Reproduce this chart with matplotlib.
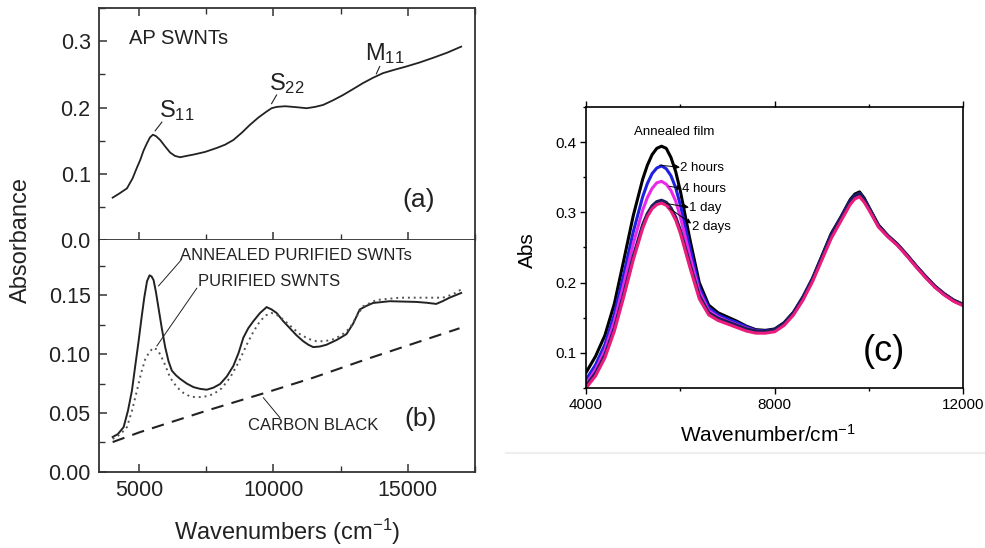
import matplotlib
matplotlib.use("Agg")
import matplotlib.pyplot as plt
from matplotlib.lines import Line2D
from matplotlib.ticker import MultipleLocator

plt.rcParams['font.family'] = ['Liberation Sans', 'DejaVu Sans']
plt.rcParams['mathtext.default'] = 'regular'

# ---- panel (a): as-prepared SWNTs
ap_x = [4009, 4250, 4542, 4750, 4900, 5037, 5160, 5285, 5400, 5508, 5620, 5780, 5950, 6152,
        6330, 6524, 6760, 7020, 7450, 7887, 8200, 8506, 8820, 9126, 9440, 9745, 9930, 10117,
        10430, 10737, 11000, 11232, 11550, 11852, 12220, 12595, 12970, 13338, 13710, 14082,
        14500, 14949, 15440, 15940, 16480, 16993]
ap_y = [0.064, 0.070, 0.078, 0.093, 0.108, 0.121, 0.135, 0.146, 0.155, 0.159, 0.157, 0.151,
        0.142, 0.132, 0.127, 0.125, 0.127, 0.129, 0.133, 0.139, 0.144, 0.151, 0.162, 0.174,
        0.185, 0.194, 0.199, 0.201, 0.202, 0.201, 0.200, 0.199, 0.201, 0.204, 0.211, 0.219,
        0.228, 0.237, 0.245, 0.252, 0.257, 0.262, 0.268, 0.275, 0.283, 0.292]

# ---- panel (b)
ann_x = [4009, 4200, 4418, 4580, 4727, 4850, 4975, 5080, 5186, 5290, 5384, 5460, 5533, 5620,
         5719, 5840, 5966, 6090, 6214, 6370, 6524, 6770, 7020, 7270, 7515, 7760, 8011, 8260,
         8506, 8700, 8878, 9060, 9250, 9500, 9745, 9930, 10117, 10365, 10613, 10860, 11108,
         11300, 11480, 11730, 11976, 12350, 12719, 12970, 13215, 13460, 13710, 14330, 14820,
         15321, 15700, 16064, 16300, 16560, 16993]
ann_y = [0.0296, 0.032, 0.038, 0.052, 0.069, 0.090, 0.111, 0.130, 0.148, 0.162, 0.167, 0.166,
         0.163, 0.153, 0.139, 0.122, 0.106, 0.094, 0.086, 0.082, 0.079, 0.075, 0.072, 0.0705,
         0.0698, 0.0715, 0.0746, 0.081, 0.090, 0.101, 0.114, 0.122, 0.128, 0.135, 0.140, 0.138,
         0.135, 0.128, 0.122, 0.116, 0.111, 0.108, 0.106, 0.1065, 0.108, 0.112, 0.117, 0.126,
         0.138, 0.141, 0.1435, 0.145, 0.1447, 0.1444, 0.1437, 0.1427, 0.145, 0.148, 0.152]

pur_x = [4009, 4300, 4542, 4730, 4913, 5070, 5223, 5380, 5533, 5650, 5780, 5960, 6152, 6400,
         6648, 6900, 7143, 7450, 7763, 8070, 8382, 8700, 9002, 9250, 9498, 9720, 9931, 10150,
         10365, 10680, 10985, 11300, 11604, 11900, 12224, 12530, 12843, 13100, 13338, 13834,
         14701, 15692, 16312, 16700, 16993]
pur_y = [0.028, 0.032, 0.038, 0.052, 0.069, 0.084, 0.0957, 0.102, 0.1055, 0.104, 0.100, 0.091,
         0.080, 0.072, 0.067, 0.064, 0.0633, 0.064, 0.066, 0.071, 0.080, 0.093, 0.108, 0.119,
         0.128, 0.133, 0.135, 0.133, 0.1295, 0.123, 0.117, 0.113, 0.111, 0.111, 0.1126, 0.116,
         0.122, 0.132, 0.1407, 0.146, 0.148, 0.148, 0.148, 0.151, 0.155]

cb_x = [4009, 5037, 7515, 9745, 11480, 13462, 15321, 16932]
cb_y = [0.0253, 0.0338, 0.052, 0.0675, 0.080, 0.0957, 0.1098, 0.122]

# ---- panel (c): annealed film and after exposure
wn = [4000, 4200, 4400, 4600, 4800, 5000, 5200, 5300, 5400, 5500, 5600, 5700, 5800, 5900,
      6000, 6200, 6400, 6600, 6800, 7000, 7200, 7400, 7600, 7800, 8000, 8200, 8400, 8600,
      8800, 9000, 9200, 9400, 9600, 9700, 9800, 9900, 10000, 10200, 10400, 10600, 10800,
      11000, 11200, 11400, 11600, 11800, 12000]
abs_annealed = [0.072, 0.095, 0.125, 0.170, 0.232, 0.295, 0.347, 0.367, 0.382, 0.391, 0.394,
                0.391, 0.378, 0.358, 0.330, 0.262, 0.200, 0.168, 0.157, 0.151, 0.145, 0.138,
                0.133, 0.132, 0.134, 0.143, 0.158, 0.180, 0.206, 0.238, 0.270, 0.293, 0.318,
                0.326, 0.329, 0.320, 0.307, 0.282, 0.267, 0.255, 0.240, 0.224, 0.209, 0.195,
                0.184, 0.175, 0.169]
abs_2h = [0.062, 0.083, 0.112, 0.155, 0.212, 0.272, 0.322, 0.341, 0.355, 0.363, 0.366, 0.362,
          0.352, 0.335, 0.310, 0.250, 0.193, 0.164, 0.154, 0.148, 0.143, 0.137, 0.132, 0.131,
          0.133, 0.142, 0.157, 0.179, 0.205, 0.236, 0.268, 0.292, 0.316, 0.324, 0.327, 0.318,
          0.306, 0.281, 0.266, 0.254, 0.239, 0.223, 0.208, 0.194, 0.183, 0.174, 0.168]
abs_4h = [0.056, 0.076, 0.104, 0.145, 0.198, 0.255, 0.303, 0.321, 0.334, 0.342, 0.344, 0.340,
          0.331, 0.316, 0.293, 0.238, 0.187, 0.160, 0.151, 0.145, 0.140, 0.135, 0.131, 0.130,
          0.132, 0.141, 0.156, 0.177, 0.203, 0.234, 0.266, 0.290, 0.314, 0.322, 0.325, 0.317,
          0.305, 0.280, 0.266, 0.254, 0.239, 0.223, 0.208, 0.194, 0.183, 0.174, 0.168]
abs_1d = [0.053, 0.071, 0.097, 0.135, 0.184, 0.237, 0.282, 0.298, 0.309, 0.315, 0.317, 0.314,
          0.306, 0.293, 0.274, 0.226, 0.181, 0.157, 0.149, 0.144, 0.139, 0.134, 0.131, 0.130,
          0.133, 0.142, 0.157, 0.178, 0.204, 0.235, 0.267, 0.291, 0.315, 0.324, 0.327, 0.318,
          0.306, 0.281, 0.266, 0.254, 0.239, 0.223, 0.208, 0.194, 0.183, 0.174, 0.168]
abs_2d = [0.050, 0.067, 0.093, 0.131, 0.180, 0.232, 0.277, 0.294, 0.305, 0.311, 0.313, 0.310,
          0.302, 0.289, 0.270, 0.222, 0.177, 0.154, 0.146, 0.141, 0.136, 0.131, 0.128, 0.128,
          0.130, 0.139, 0.154, 0.175, 0.201, 0.232, 0.263, 0.287, 0.311, 0.319, 0.322, 0.314,
          0.303, 0.279, 0.265, 0.253, 0.238, 0.222, 0.207, 0.193, 0.182, 0.173, 0.167]

labels_c = ["2 hours", "4 hours", "1 day", "2 days"]

fig = plt.figure(figsize=(9.85, 5.48), dpi=100)
ax_a = fig.add_axes([0.1005, 0.562, 0.3815, 0.423])
ax_b = fig.add_axes([0.1005, 0.139, 0.3815, 0.423])
ax_c = fig.add_axes([0.595, 0.292, 0.383, 0.513])

ink = "#222222"

# panel (a)
ax_a.plot(ap_x, ap_y, color=ink, lw=1.3)
ax_a.set_xlim(3500, 17500)
ax_a.set_ylim(0, 0.35)
ax_a.yaxis.set_minor_locator(MultipleLocator(0.05))
ax_a.xaxis.set_major_locator(MultipleLocator(5000))
ax_a.xaxis.set_minor_locator(MultipleLocator(2500))
ax_a.set_yticks([0.0, 0.1, 0.2, 0.3])
ax_a.set_yticklabels(["0.0", "0.1", "0.2", "0.3"])
ax_a.tick_params(axis="x", which="both", direction="in", top=True, bottom=True, labelbottom=False)
ax_a.tick_params(axis="y", which="both", direction="in", left=True, right=False)
ax_a.text(4604, 0.304, "AP SWNTs", fontsize=14.5, color=ink, va="center")
ax_a.text(5750, 0.195, "S$_{11}$", fontsize=17, color=ink, va="center")
ax_a.plot([5595, 5843], [0.165, 0.178], color=ink, lw=0.8)
ax_a.text(9850, 0.236, "S$_{22}$", fontsize=17, color=ink, va="center")
ax_a.plot([9931, 10117], [0.206, 0.219], color=ink, lw=0.8)
ax_a.text(13400, 0.281, "M$_{11}$", fontsize=17, color=ink, va="center")
ax_a.plot([13834, 13958], [0.251, 0.262], color=ink, lw=0.8)
ax_a.text(15400, 0.06, "(a)", fontsize=19, color=ink, ha="center", va="center")

# panel (b)
ax_b.plot(ann_x, ann_y, color=ink, lw=1.4)
ax_b.plot(pur_x, pur_y, color="#555555", lw=1.4, ls=(0, (1, 2)))
ax_b.plot(cb_x, cb_y, color=ink, lw=1.5, ls=(0, (6, 4)))
ax_b.set_xlim(3500, 17500)
ax_b.set_ylim(0, 0.197)
ax_b.xaxis.set_major_locator(MultipleLocator(5000))
ax_b.xaxis.set_minor_locator(MultipleLocator(2500))
ax_b.set_yticks([0.0, 0.05, 0.10, 0.15])
ax_b.set_yticklabels(["0.00", "0.05", "0.10", "0.15"])
ax_b.yaxis.set_minor_locator(MultipleLocator(0.025))
ax_b.tick_params(axis="x", which="both", direction="in", top=False, bottom=True)
ax_b.tick_params(axis="y", which="both", direction="in", left=True, right=False)
ax_b.spines["top"].set_visible(False)
ax_b.text(6524, 0.184, "ANNEALED PURIFIED SWNTs", fontsize=12, color=ink, va="center")
ax_b.plot([5719, 6560], [0.158, 0.180], color=ink, lw=0.7)
ax_b.text(7205, 0.162, "PURIFIED SWNTS", fontsize=12, color=ink, va="center")
ax_b.plot([5657, 7143], [0.107, 0.156], color=ink, lw=0.7)
ax_b.text(9064, 0.039, "CARBON BLACK", fontsize=12, color=ink, va="center")
ax_b.plot([9622, 10241], [0.063, 0.046], color=ink, lw=0.7)
ax_b.text(15480, 0.045, "(b)", fontsize=19, color=ink, ha="center", va="center")

for ax in (ax_a, ax_b):
    for s in ax.spines.values():
        s.set_color("#333333")
        s.set_linewidth(1.3)
    ax.tick_params(which="major", length=6, width=1.1, colors="#333333",
                   labelsize=15.5, labelcolor=ink, pad=6)
    ax.tick_params(which="minor", length=4, width=1.0, colors="#333333")

fig.text(0.0213, 0.562, "Absorbance", rotation=90, fontsize=17, color=ink,
         ha="center", va="center")
fig.text(0.292, 0.030, "Wavenumbers (cm$^{-1}$)", fontsize=17, color=ink,
         ha="center", va="center")

# panel (c)
ax_c.plot(wn, abs_annealed, color="black", lw=2.2)
ax_c.plot(wn, abs_2h, color="#1f1fe0", lw=2.2)
ax_c.plot(wn, abs_4h, color="#e82ae8", lw=2.2)
ax_c.plot(wn, abs_1d, color="#1c1c5c", lw=2.4)
ax_c.plot(wn, abs_2d, color="#ea1c7c", lw=2.2)
ax_c.set_xlim(4000, 12000)
ax_c.set_ylim(0.05, 0.45)
ax_c.set_xticks([4000, 8000, 12000])
ax_c.xaxis.set_minor_locator(MultipleLocator(2000))
ax_c.set_yticks([0.1, 0.2, 0.3, 0.4])
ax_c.yaxis.set_minor_locator(MultipleLocator(0.05))
ax_c.tick_params(which="both", direction="out", top=True, right=False, labelsize=11, pad=3)
ax_c.tick_params(which="major", length=4, width=1)
ax_c.tick_params(which="minor", length=2.5, width=1)
for s in ax_c.spines.values():
    s.set_linewidth(1.2)

ax_c.text(5875, 0.414, "Annealed film", fontsize=9.5, ha="center", va="center")
label_pos = [(6000, 0.363), (6040, 0.333), (6190, 0.306), (6250, 0.279)]
arrow_from = [(5560, 0.367), (5760, 0.337), (5700, 0.3125), (5760, 0.306)]
arrow_to = [(5990, 0.364), (6030, 0.334), (6180, 0.307), (6230, 0.284)]
for lab, p, a0, a1 in zip(labels_c, label_pos, arrow_from, arrow_to):
    ax_c.annotate("", xy=a1, xytext=a0,
                  arrowprops=dict(arrowstyle="-|>", color="black", lw=0.7,
                                  mutation_scale=7, shrinkA=0, shrinkB=0))
    ax_c.text(p[0], p[1], lab, fontsize=9.5, ha="left", va="center")
ax_c.text(10320, 0.102, "(c)", fontsize=26, ha="center", va="center")

fig.text(0.535, 0.544, "Abs", rotation=90, fontsize=15, ha="center", va="center")
fig.text(0.780, 0.206, "Wavenumber/cm$^{-1}$", fontsize=15, ha="center", va="center")

fig.add_artist(Line2D([0.514, 1.0], [0.1734, 0.1734], transform=fig.transFigure,
                      color="#eeeeee", lw=1.5))

fig.savefig("out.png", dpi=100)
